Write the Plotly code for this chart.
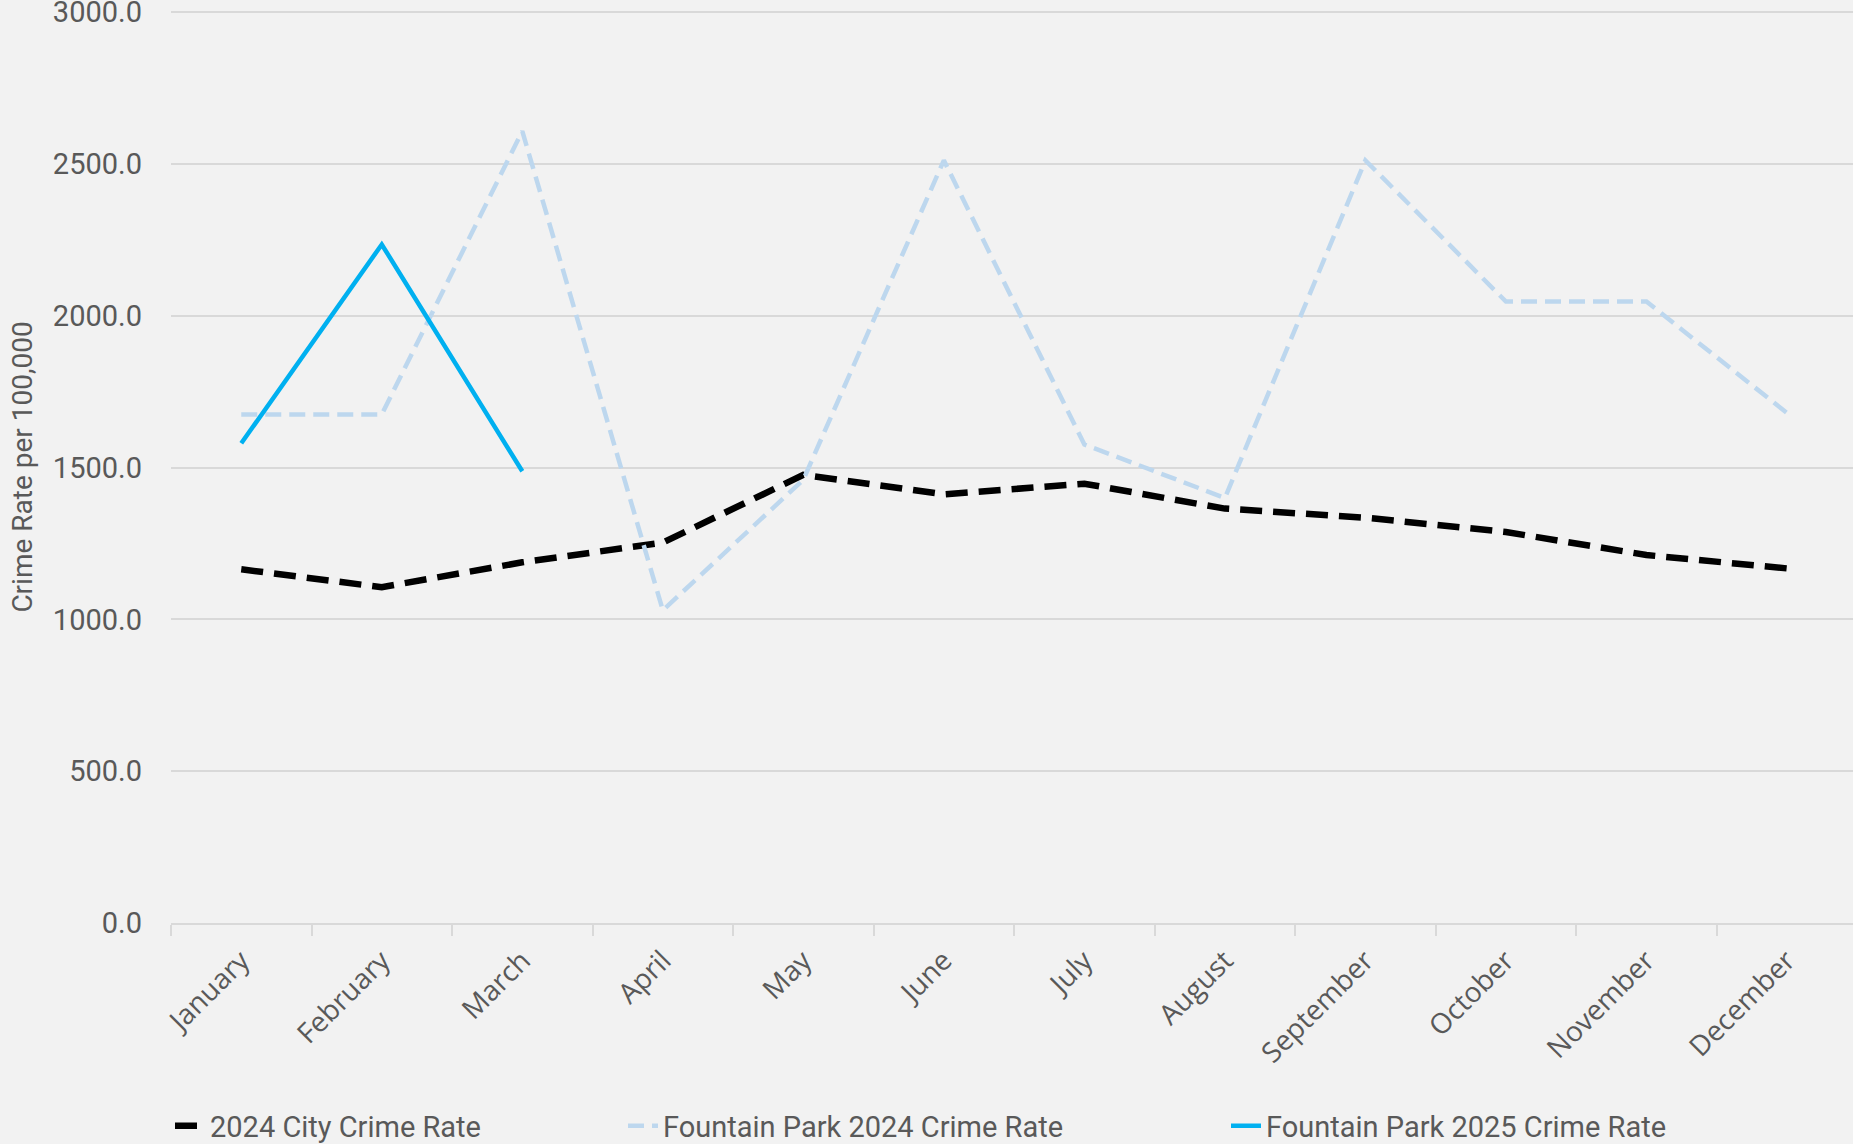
import plotly.graph_objects as go

months = ["January", "February", "March", "April", "May", "June", "July",
          "August", "September", "October", "November", "December"]

city_2024 = [1165, 1106, 1188, 1253, 1476, 1412, 1447, 1365, 1335, 1288, 1212, 1168]
fp_2024 = [1675, 1675, 2608, 1030, 1460, 2512, 1576, 1400, 2512, 2047, 2047, 1680]
fp_2025 = [1580, 2235, 1488]

y_ticks = [0, 500, 1000, 1500, 2000, 2500, 3000]

TEXT = "#595959"
GRID = "#D9D9D9"
BG = "#F2F2F2"
DIN = "Roboto, 'DejaVu Sans', sans-serif"
OPEN = "'Open Sans', 'Noto Sans', sans-serif"

fig = go.Figure()

fig.add_trace(go.Scatter(
    x=months, y=city_2024, mode="lines", name="2024 City Crime Rate",
    line=dict(color="#000000", width=6.5, dash="22px,11px"),
    legend="legend",
))
fig.add_trace(go.Scatter(
    x=months, y=fp_2024, mode="lines", name="Fountain Park 2024 Crime Rate",
    line=dict(color="#BDD7EE", width=4.5, dash="16px,8px"),
    legend="legend2",
))
fig.add_trace(go.Scatter(
    x=months[:len(fp_2025)], y=fp_2025, mode="lines", name="Fountain Park 2025 Crime Rate",
    line=dict(color="#00B0F0", width=4.5),
    legend="legend3",
))

leg_common = dict(
    orientation="h", xref="container", yref="container",
    yanchor="middle", y=(1144 - 1126) / 1144, xanchor="left",
    bgcolor="rgba(0,0,0,0)", font=dict(family=DIN, size=29, color=TEXT),
    itemwidth=30,
)

fig.update_layout(
    width=1853, height=1144,
    paper_bgcolor=BG, plot_bgcolor=BG,
    margin=dict(l=171, r=0, t=11, b=221, autoexpand=False),
    showlegend=True,
    legend=dict(x=(220 - 50) / 1853, **leg_common),
    legend2=dict(x=(673 - 50) / 1853, **leg_common),
    legend3=dict(x=(1276 - 50) / 1853, **leg_common),
    xaxis=dict(
        type="category", range=[-0.5, 11.47],
        showline=True, linecolor=GRID, linewidth=2,
        ticks="outside", tickson="boundaries", ticklen=11, tickcolor=GRID, tickwidth=1.5,
        showgrid=False, tickangle=-45, ticklabelstandoff=8,
        tickfont=dict(family=OPEN, size=28, color=TEXT),
        automargin=False,
    ),
    yaxis=dict(
        range=[0, 3004], tickvals=y_ticks, tickformat=".1f",
        showgrid=True, gridcolor=GRID, gridwidth=1.5, zeroline=False,
        showline=False, ticks="", ticklabelstandoff=28,
        ticklabeloverflow="allow",
        tickfont=dict(family=DIN, size=29, color=TEXT),
        title=dict(text="Crime Rate per 100,000", standoff=12,
                   font=dict(family=DIN, size=28, color=TEXT)),
        automargin=False,
    ),
)

fig.write_html(
    "out.html",
    config={"displayModeBar": False},
    post_script="document.body.style.margin='0';document.body.style.padding='0';"
                "document.body.style.overflow='hidden';",
)
